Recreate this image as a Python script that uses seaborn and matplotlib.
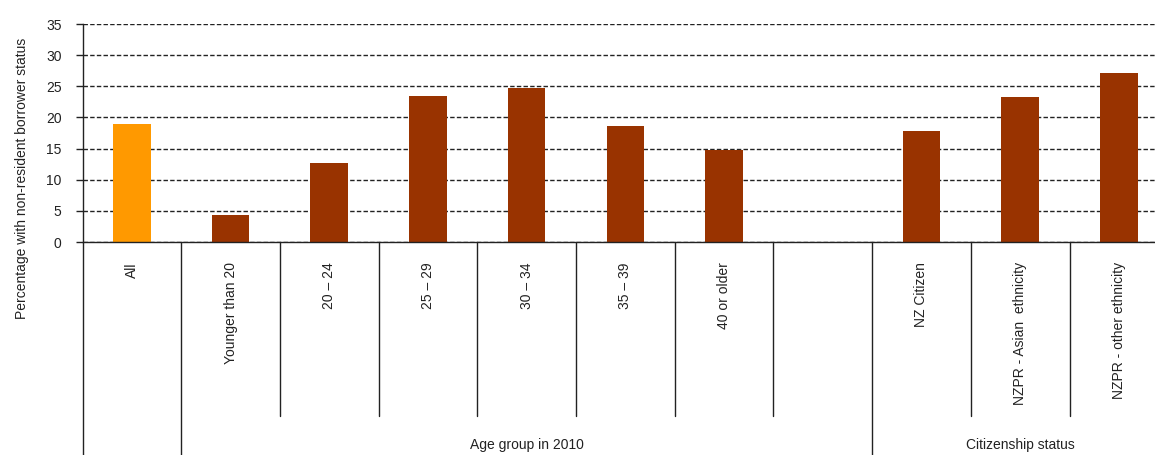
import matplotlib
matplotlib.use("Agg")
import matplotlib.pyplot as plt
import matplotlib.transforms as mtransforms
import seaborn as sns
import pandas as pd
import numpy as np

# ---- data ----
categories = ["All", "Younger than 20", "20 \u2013 24", "25 \u2013 29", "30 \u2013 34",
              "35 \u2013 39", "40 or older", " ", "NZ Citizen",
              "NZPR - Asian  ethnicity", "NZPR - other ethnicity"]
values = [19.0, 4.3, 12.7, 23.4, 24.7, 18.6, 14.7, np.nan, 17.9, 23.2, 27.1]
group_labels = ["Age group in 2010", "Citizenship status"]
y_ticks = [0, 5, 10, 15, 20, 25, 30, 35]
y_label = "Percentage with non-resident borrower status"

ORANGE = "#FF9900"
BROWN = "#993300"
colors = [ORANGE] + [BROWN] * 10

sns.set_theme(style="white")
plt.rcParams["font.family"] = ["Liberation Sans", "DejaVu Sans"]

df = pd.DataFrame({"cat": categories, "val": values})
df_plot = df.dropna()
palette = {c: col for c, col in zip(categories, colors)}

W, H = 1155, 455
fig = plt.figure(figsize=(W / 100, H / 100), dpi=100)
x0, xw = 82.5, 98.7 * 11
y0, yh = 242, 218
ax = fig.add_axes([x0 / W, (H - y0) / H, xw / W, yh / H])

sns.barplot(data=df_plot, x="cat", y="val", hue="cat", order=categories,
            palette=palette, width=0.38, legend=False, ax=ax,
            saturation=1, edgecolor="none", linewidth=0)

ax.set_xlim(-0.5, 10.5)
ax.set_ylim(0, 35)
ax.set_yticks(y_ticks)
ax.set_yticklabels([str(t) for t in y_ticks], fontsize=10, color="#222222")
ax.set_xlabel("")
ax.set_ylabel("")

ax.set_xticks(range(len(categories)))
ax.set_xticklabels(categories, rotation=90, fontsize=10, color="#222222",
                   va="top", ha="center")
ax.tick_params(axis="x", length=0, pad=14.5)
ax.tick_params(axis="y", length=5, width=1, direction="out", pad=10,
               color="#222222", left=True)

ax.yaxis.grid(True, linestyle=(0, (3.2, 1.6)), color="#222222", linewidth=1.0)
ax.xaxis.grid(False)
ax.set_axisbelow(True)

for s in ["top", "right"]:
    ax.spines[s].set_visible(False)
for s in ["left", "bottom"]:
    ax.spines[s].set_color("#222222")
    ax.spines[s].set_linewidth(1.0)

# divider lines below the axis
trans = mtransforms.blended_transform_factory(ax.transData, ax.transAxes)
short_bottom = (y0 - 416) / yh
long_bottom = (y0 - 458) / yh
long_positions = [-0.5, 0.5, 7.5]
short_positions = [1.5, 2.5, 3.5, 4.5, 5.5, 6.5, 8.5, 9.5]
for xp in long_positions:
    ax.plot([xp, xp], [0, long_bottom], color="#222222", lw=1.0,
            transform=trans, clip_on=False)
for xp in short_positions:
    ax.plot([xp, xp], [0, short_bottom], color="#222222", lw=1.0,
            transform=trans, clip_on=False)

# group labels
gy = (y0 - 445) / yh
ax.text((0.5 + 7.5) / 2, gy, group_labels[0], transform=trans,
        ha="center", va="center", fontsize=10, color="#222222")
ax.text((7.5 + 10.5) / 2, gy, group_labels[1], transform=trans,
        ha="center", va="center", fontsize=10, color="#222222")

fig.text(22 / W, 1 - 178 / H, y_label, rotation=90, ha="center", va="center",
         fontsize=10, color="#222222")

fig.savefig("out.png", dpi=100, facecolor="white")
